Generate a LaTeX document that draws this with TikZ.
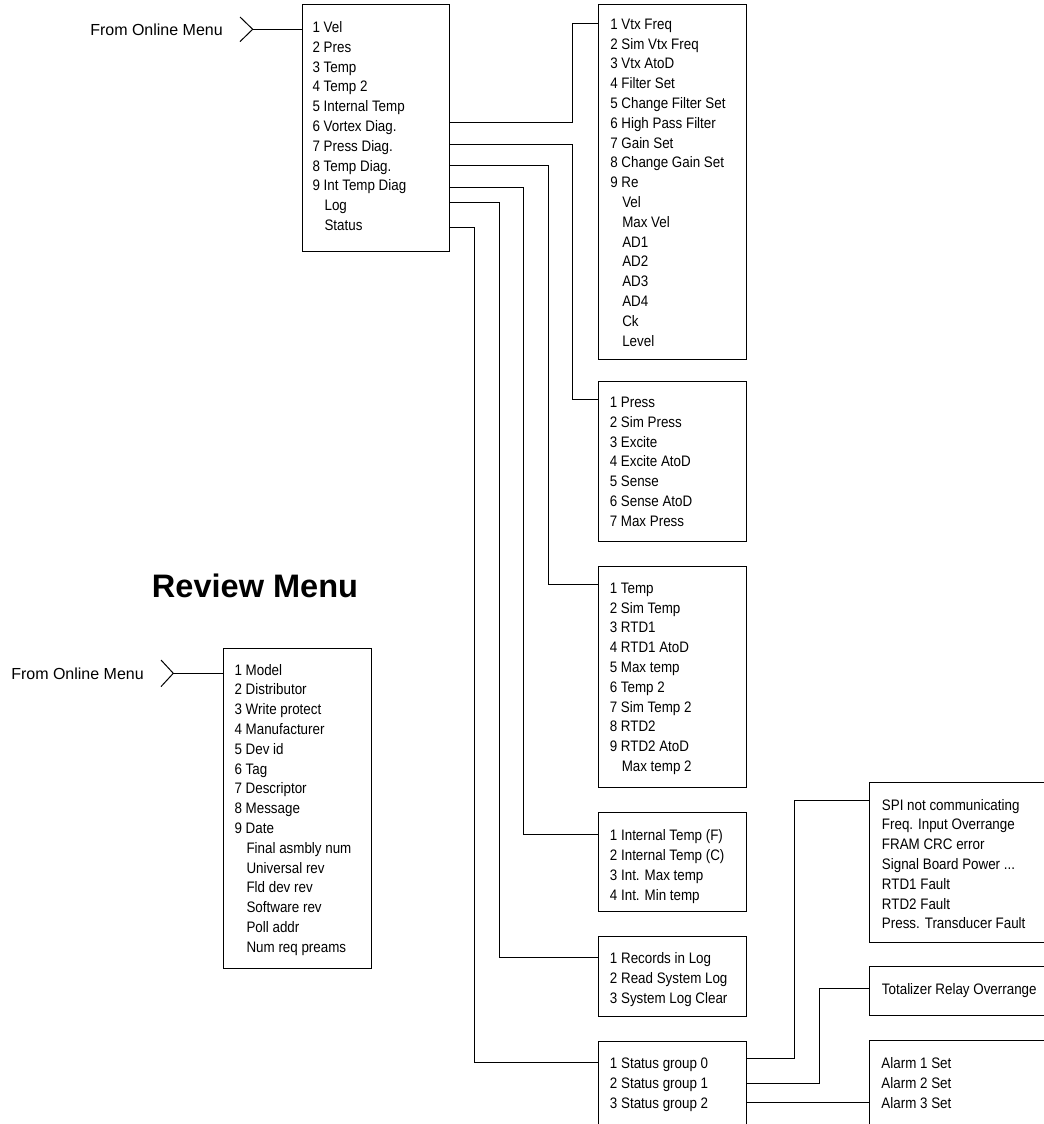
\documentclass[tikz,border=0pt]{standalone}
\usepackage{fontspec}
\setmainfont{Liberation Sans}
\newfontfamily\boxfont[FakeStretch=0.88]{Liberation Sans}
\usetikzlibrary{calc}
\newcommand\mindent{\hspace*{9pt}}
\begin{document}
\begin{tikzpicture}[x=0.75pt,y=-0.75pt,
  menubox/.style={draw, line width=0.75pt, inner sep=0pt, anchor=north west},
  menutext/.style={inner sep=0pt, anchor=north west, align=left,
    font=\boxfont\fontsize{11.4}{14.85}\selectfont},
  wire/.style={line width=0.75pt},
  fromlabel/.style={inner sep=0pt, anchor=west, font=\fontsize{12}{14}\selectfont}]
\clip (0,0) rectangle (1044,1124);
\fill[white] (0,0) rectangle (1044,1124);

% boxes
\node[menubox, minimum width=110.25pt, minimum height=185.25pt] (main) at (302,4) {};
\node[menubox, minimum width=111pt, minimum height=266.25pt] (vtx) at (597.5,4) {};
\node[menubox, minimum width=111pt, minimum height=120pt] (press) at (597.5,381) {};
\node[menubox, minimum width=111pt, minimum height=165.75pt] (temp) at (597.5,566) {};
\node[menubox, minimum width=111pt, minimum height=74.25pt] (int) at (597.5,812) {};
\node[menubox, minimum width=111pt, minimum height=60pt] (log) at (597.5,936) {};
\node[menubox, minimum width=111pt, minimum height=75pt] (status) at (597.5,1041) {};
\node[menubox, minimum width=150pt, minimum height=120pt] (spi) at (869,782) {};
\node[menubox, minimum width=150pt, minimum height=36.75pt] (tot) at (869,966) {};
\node[menubox, minimum width=150pt, minimum height=75pt] (alarm) at (869,1040) {};
\node[menubox, minimum width=111.2pt, minimum height=240pt] (review) at (222.7,648.3) {};

% texts
\node[menutext] (maintext) at (312.3,21.3) {1 Vel\\2 Pres\\3 Temp\\4 Temp 2\\5 Internal Temp\\6 Vortex Diag.\\7 Press Diag.\\8 Temp Diag.\\9 Int Temp Diag\\\mindent Log\\\mindent Status};
\node[menutext] (vtxtext) at (610,18.6) {1 Vtx Freq\\2 Sim Vtx Freq\\3 Vtx AtoD\\4 Filter Set\\5 Change Filter Set\\6 High Pass Filter\\7 Gain Set\\8 Change Gain Set\\9 Re\\\mindent Vel\\\mindent Max Vel\\\mindent AD1\\\mindent AD2\\\mindent AD3\\\mindent AD4\\\mindent Ck\\\mindent Level};
\node[menutext] (presstext) at (609.5,396.8) {1 Press\\2 Sim Press\\3 Excite\\4 Excite AtoD\\5 Sense\\6 Sense AtoD\\7 Max Press};
\node[menutext] (temptext) at (609.5,582.6) {1 Temp\\2 Sim Temp\\3 RTD1\\4 RTD1 AtoD\\5 Max temp\\6 Temp 2\\7 Sim Temp 2\\8 RTD2\\9 RTD2 AtoD\\\mindent Max temp 2};
\node[menutext] (inttext) at (609.7,829.6) {1 Internal Temp (F)\\2 Internal Temp (C)\\3 Int. Max temp\\4 Int. Min temp};
\node[menutext] (logtext) at (609.7,952.3) {1 Records in Log\\2 Read System Log\\3 System Log Clear};
\node[menutext] (statustext) at (609.7,1057.9) {1 Status group 0\\2 Status group 1\\3 Status group 2};
\node[menutext] (spitext) at (881.7,798.9) {SPI not communicating\\Freq. Input Overrange\\FRAM CRC error\\Signal Board Power ...\\RTD1 Fault\\RTD2 Fault\\Press. Transducer Fault};
\node[menutext] (tottext) at (881.7,982.9) {Totalizer Relay Overrange};
\node[menutext] (alarmtext) at (881.2,1057.3) {Alarm 1 Set\\Alarm 2 Set\\Alarm 3 Set};
\node[menutext] (reviewtext) at (234.3,663.9) {1 Model\\2 Distributor\\3 Write protect\\4 Manufacturer\\5 Dev id\\6 Tag\\7 Descriptor\\8 Message\\9 Date\\\mindent Final asmbly num\\\mindent Universal rev\\\mindent Fld dev rev\\\mindent Software rev\\\mindent Poll addr\\\mindent Num req preams};

% title and entry labels
\node[inner sep=0pt, anchor=base, font=\bfseries\fontsize{24.4}{28}\selectfont] (title) at (255,597) {Review Menu};
\node[fromlabel] (from1) at (90,29.3) {From Online Menu};
\node[fromlabel] (from2) at (11,673.3) {From Online Menu};

% chevrons and entry lines
\coordinate (tip1) at (252.7,29.3);
\coordinate (tip2) at (173.3,673.3);
\draw[wire] (240,17) -- (tip1) -- (240,41.6);
\draw[wire] (161,660) -- (tip2) -- (161,686.6);
\draw[wire] (tip1) -- (main.west |- tip1);
\draw[wire] (tip2) -- (review.west |- tip2);

% ports on main box
\coordinate (m6) at (main.east |- 0,122);
\coordinate (m7) at (main.east |- 0,144);
\coordinate (m8) at (main.east |- 0,165);
\coordinate (m9) at (main.east |- 0,187);
\coordinate (mlog) at (main.east |- 0,202);
\coordinate (mstat) at (main.east |- 0,227.7);
% input ports
\coordinate (vin) at (vtx.west |- 0,23.7);
\coordinate (pin) at (press.west |- 0,399.5);
\coordinate (tin) at (temp.west |- 0,584);
\coordinate (iin) at (int.west |- 0,834);
\coordinate (lin) at (log.west |- 0,957);
\coordinate (sin) at (status.west |- 0,1062);
% status ports
\coordinate (s0) at (status.east |- 0,1058.7);
\coordinate (s1) at (status.east |- 0,1083.3);
\coordinate (s2) at (status.east |- 0,1102);
\coordinate (spiin) at (spi.west |- 0,800.7);
\coordinate (totin) at (tot.west |- 0,988.3);
\coordinate (alin) at (alarm.west |- 0,1102);

\draw[wire] (m6) -| ($(vin)+(-24.8,0)$) -- (vin);
\draw[wire] (m7) -| ($(pin)+(-24.8,0)$) -- (pin);
\draw[wire] (m8) -| ($(tin)+(-49.5,0)$) -- (tin);
\draw[wire] (m9) -| ($(iin)+(-74.5,0)$) -- (iin);
\draw[wire] (mlog) -| ($(lin)+(-98.5,0)$) -- (lin);
\draw[wire] (mstat) -| ($(sin)+(-123.2,0)$) -- (sin);
\draw[wire] (s0) -| ($(spiin)+(-75,0)$) -- (spiin);
\draw[wire] (s1) -| ($(totin)+(-49.5,0)$) -- (totin);
\draw[wire] (s2) -- (alin);
\end{tikzpicture}
\end{document}
